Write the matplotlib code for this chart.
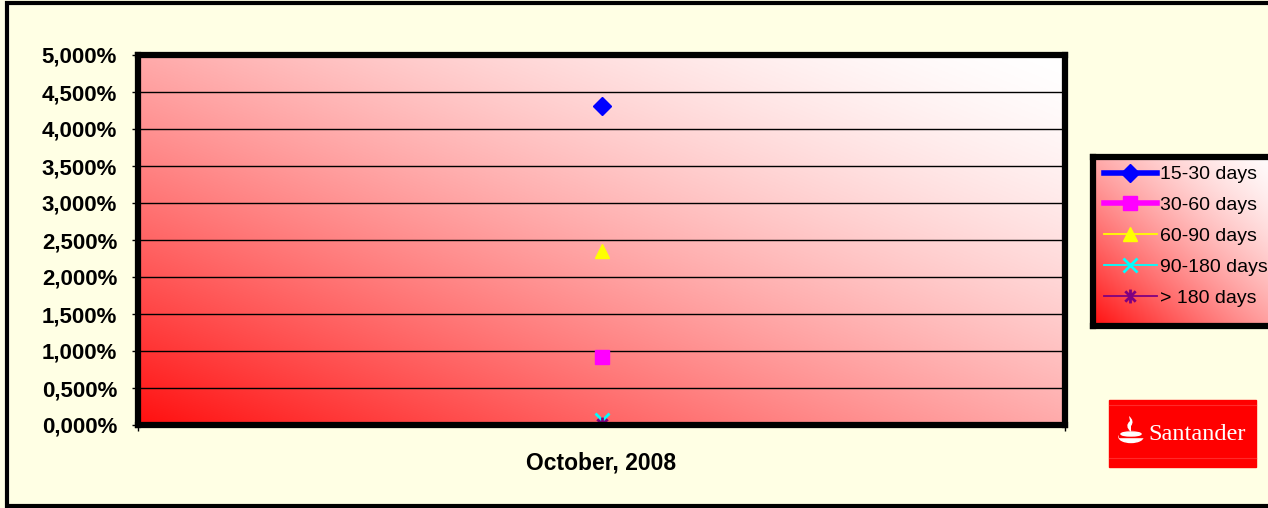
import numpy as np
import matplotlib.pyplot as plt
from matplotlib.path import Path
from matplotlib.patches import Rectangle, Ellipse, PathPatch

plt.rcParams['font.family'] = ['Liberation Sans', 'DejaVu Sans']

# data
category = "October, 2008"
series_names = ["15-30 days", "30-60 days", "60-90 days", "90-180 days", "> 180 days"]
series_values = [4.31, 0.92, 2.35, 0.07, 0.01]
series_colors = ["#0000FF", "#FF00FF", "#FFFF00", "#00FFFF", "#800080"]
y_ticks = [0.0, 0.5, 1.0, 1.5, 2.0, 2.5, 3.0, 3.5, 4.0, 4.5, 5.0]

W, H = 1268, 508
fig = plt.figure(figsize=(W / 100, H / 100), dpi=100, facecolor="#FFFFE4")


def px_rect(x0, y0, x1, y1):
    # pixel box (top-left origin) -> figure fraction
    return [x0 / W, 1 - y1 / H, (x1 - x0) / W, (y1 - y0) / H]


def red_white_gradient(n=256):
    # diagonal fill: red in the lower left corner, white in the upper right
    u = np.linspace(0, 1, n)
    uu, vv = np.meshgrid(u, u)
    s = (uu + vv) / 2
    t = 0.06 + 0.94 * (1 - (1 - s) ** 1.5)
    img = np.ones((n, n, 3))
    img[..., 1] = t
    img[..., 2] = t
    return img


# star marker (Excel style: x with a vertical bar)
star = Path([(0, -1), (0, 1), (-0.75, -0.75), (0.75, 0.75), (-0.75, 0.75), (0.75, -0.75)],
            [Path.MOVETO, Path.LINETO, Path.MOVETO, Path.LINETO, Path.MOVETO, Path.LINETO])
markers = ["D", "s", "^", "x", star]
msizes = [9, 10, 10, 10, 10]
lwidths = [4, 4, 1.3, 1.3, 1.3]

# background layer for frame and logo
pix = fig.add_axes([0, 0, 1, 1], zorder=-1)
pix.set_xlim(0, W)
pix.set_ylim(H, 0)
pix.axis("off")
pix.plot([W + 5, 7, 7, W + 5], [3, 3, 506, 506], color="black", lw=3, solid_joinstyle="miter")

# Santander logo
pix.add_patch(Rectangle((1109, 400), 147, 67, color="#FF0000"))
pix.plot([1109, 1256], [405, 405], color="#FF2A2A", lw=0.8)
pix.plot([1109, 1256], [458, 458], color="#FF2A2A", lw=0.8)
pix.add_patch(Ellipse((1131, 437), 24, 11, color="white"))
pix.add_patch(Rectangle((1119, 431), 25, 6, color="#FF0000"))
flame = Path([(1131, 432), (1124, 426), (1130, 421), (1129, 416), (1135, 421), (1131, 426), (1131, 432)],
             [Path.MOVETO, Path.CURVE3, Path.CURVE3, Path.LINETO, Path.CURVE3, Path.CURVE3, Path.CLOSEPOLY])
pix.add_patch(PathPatch(flame, color="white", lw=0))
pix.add_patch(Ellipse((1131, 434), 20, 4, color="white"))
pix.text(1148, 434, "Santander", family="Liberation Serif", color="white",
         fontsize=17.5, va="center", ha="left")

# main plot
ax = fig.add_axes(px_rect(138, 55, 1065, 425))
ax.imshow(red_white_gradient(), origin="lower", extent=[-0.5, 0.5, 0, 5],
          aspect="auto", zorder=0)
for name, val, c, m, ms, lw in zip(series_names, series_values, series_colors,
                                   markers, msizes, lwidths):
    ax.plot([0], [val], color=c, marker=m, markersize=ms, lw=lw,
            markeredgewidth=2 if m in ("x", star) else 1, label=name, zorder=3)

ax.set_xlim(-0.5, 0.5)
ax.set_ylim(0, 5)
ax.set_yticks(y_ticks)
ax.set_yticklabels([f"{v:.3f}".replace(".", ",") + "%" for v in y_ticks],
                   fontsize=16, fontweight="bold")
ax.yaxis.grid(True, color="black", lw=1)
ax.set_axisbelow(False)
ax.set_xticks([0])
ax.set_xticklabels([category], fontsize=16.5, fontweight="bold")
ax.set_xticks([-0.5, 0.5], minor=True)
ax.tick_params(axis="x", which="major", length=0, pad=19)
ax.tick_params(axis="x", which="minor", length=4, width=1)
ax.tick_params(axis="y", length=4, width=1, pad=11)
for s in ax.spines.values():
    s.set_linewidth(4.5)
    s.set_color("black")
    s.set_zorder(4)

# legend box
lax = fig.add_axes(px_rect(1093, 157, 1290, 326))
lax.imshow(red_white_gradient(), origin="lower", extent=[0, 1, 0, 1], aspect="auto")
lax.set_xlim(0, 1)
lax.set_ylim(0, 1)
lax.set_xticks([])
lax.set_yticks([])
for s in lax.spines.values():
    s.set_linewidth(4.5)
handles, labels = ax.get_legend_handles_labels()
lax.legend(handles, labels, loc="upper left", bbox_to_anchor=(0.01, 1.0), frameon=False,
           fontsize=14, handlelength=2.75, handletextpad=0.15, labelspacing=0.68,
           borderaxespad=0.05, numpoints=1)

fig.savefig("out.png", dpi=100, facecolor=fig.get_facecolor())
